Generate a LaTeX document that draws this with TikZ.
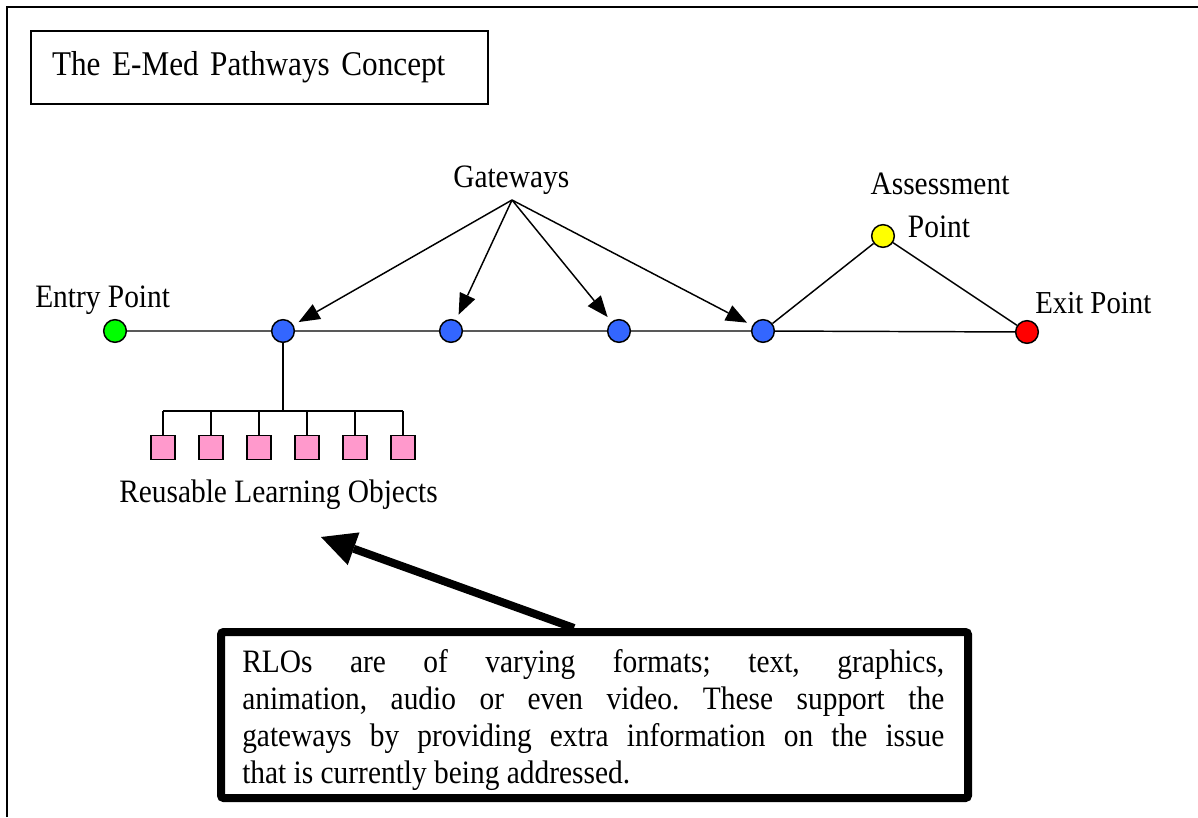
\documentclass[tikz,border=0pt]{standalone}
\usepackage{fontspec}
\setmainfont{Liberation Serif}[FakeStretch=0.9]
\usetikzlibrary{arrows.meta,calc}
\definecolor{entrygreen}{RGB}{0,255,0}
\definecolor{gateblue}{RGB}{51,102,255}
\definecolor{assessyellow}{RGB}{255,255,0}
\definecolor{exitred}{RGB}{255,0,0}
\definecolor{rlopink}{RGB}{255,153,204}
\frenchspacing
\begin{document}
\begin{tikzpicture}[x=0.75pt,y=-0.75pt,
  pathline/.style={line width=1.1pt},
  waypoint/.style={circle,draw,line width=1.1pt,minimum size=17pt,inner sep=0pt},
  rlo/.style={rectangle,draw,line width=1.1pt,fill=rlopink,minimum size=18pt,inner sep=0pt},
  lbl/.style={inner sep=0pt,anchor=base west,font=\fontsize{24.5pt}{28pt}\selectfont},
  gwarrow/.style={line width=1.1pt,-{Triangle[length=15.75pt,width=12.75pt,line width=0pt]},shorten >=4.5pt},
  bigarrow/.style={line width=6pt,-{Triangle[length=26pt,width=26pt,line width=0pt]}},
  ]
\useasboundingbox (0,0) rectangle (1198,817);
\fill[white] (0,0) rectangle (1198,817);
% outer frame
\draw[line width=1.5pt] (7,817) -- (7,7) -- (1198,7);
% title
\node[draw,line width=1.1pt,minimum width=342.75pt,minimum height=54.75pt,
      inner xsep=15.75pt,text width=311.25pt,align=left,
      font=\fontsize{26pt}{30pt}\selectfont] (title) at (259.5,67.5) {The E-Med Pathways Concept};
% waypoints
\node[waypoint,fill=entrygreen] (entry) at (115,331) {};
\node[waypoint,fill=gateblue] (b1) at (283,331) {};
\node[waypoint,fill=gateblue] (b2) at (451,331) {};
\node[waypoint,fill=gateblue] (b3) at (619,331) {};
\node[waypoint,fill=gateblue] (b4) at (763,331) {};
\node[waypoint,fill=assessyellow] (assess) at (883,236) {};
\node[waypoint,fill=exitred] (exit) at (1027,332) {};
\draw[pathline] (entry) -- (b1) -- (b2) -- (b3) -- (b4) -- (exit);
\draw[pathline] (b4) -- (assess) -- (exit);
% labels
\node[lbl] (entrylbl) at (35,307) {Entry Point};
\node[lbl] (gatelbl) at (453,187) {Gateways};
\node[lbl,anchor=base] (assesslbl) at (940,194) {Assessment};
\node[lbl,anchor=base] (pointlbl) at (939,237) {Point};
\node[lbl,font=\fontsize{24pt}{28pt}\selectfont] (exitlbl) at (1035,313) {Exit Point};
% gateway arrows
\coordinate (apex) at (512,200);
\foreach \g in {b1,b2,b3,b4} \draw[gwarrow] (apex) -- (\g);
% reusable learning objects
\coordinate (bus) at (283,411);
\draw[pathline] (b1) -- (bus);
\foreach \i/\x in {1/163,2/211,3/259,4/307,5/355,6/403}
  \node[rlo] (r\i) at (\x,447.5) {};
\draw[pathline] (r1.north |- bus) -- (r6.north |- bus);
\foreach \i in {1,...,6} \draw[pathline] (r\i.north) -- (r\i.north |- bus);
\node[lbl] (rlolbl) at (119,502) {Reusable Learning Objects};
% explanation box
\node[draw,line width=6pt,rounded corners=2pt,minimum width=560.25pt,minimum height=124.5pt] (rlobox) at (594.5,715) {};
\node[inner sep=0pt,anchor=base west,text width=526.5pt,align=justify,
      font=\fontsize{24.5pt}{27.75pt}\selectfont] (rlotext) at (242,672)
  {\tolerance=10000\pretolerance=-1\hyphenpenalty=10000
   RLOs are of varying formats; text, graphics,\linebreak
   animation, audio or even video. These support the\linebreak
   gateways by providing extra information on the issue\linebreak
   that is currently being addressed.};
\coordinate (bstart) at ($(rlobox.north west)+(357,0)$);
\coordinate (rlopoint) at (321,537);
\draw[bigarrow] (bstart) -- (rlopoint);
\end{tikzpicture}
\end{document}
